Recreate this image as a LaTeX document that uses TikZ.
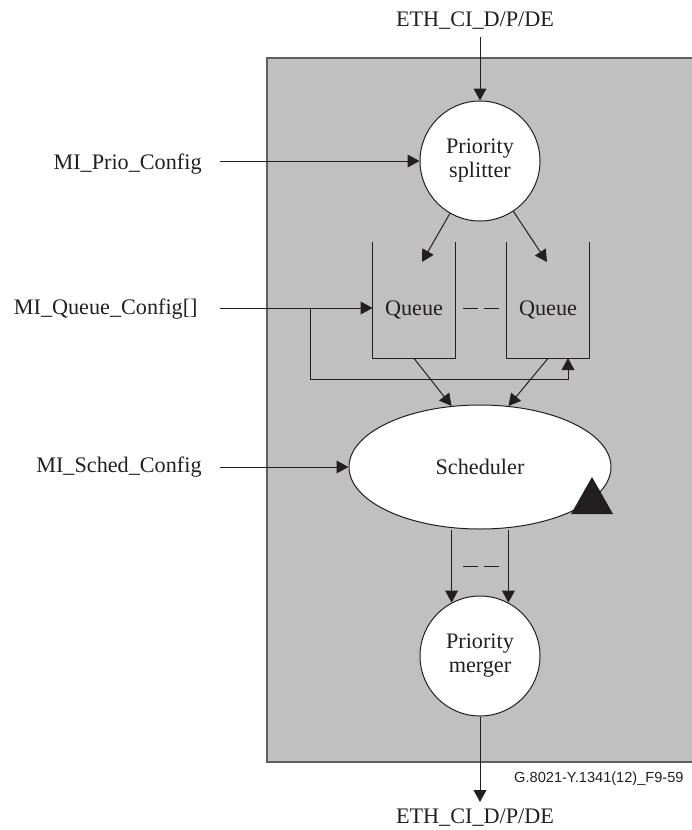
\documentclass[tikz,border=0pt]{standalone}
\usepackage{fontspec}
\setmainfont{Liberation Serif}
\newfontfamily\capfont{Liberation Sans}
\usetikzlibrary{arrows.meta,shapes.geometric}
\definecolor{bgray}{RGB}{192,192,192}
\definecolor{ink}{RGB}{35,31,32}
\definecolor{frame}{RGB}{95,95,95}
\begin{document}
\begin{tikzpicture}[x=0.5pt,y=-0.5pt,
  ln/.style={draw=ink, line width=0.5pt},
  arr/.style={ln, -{Triangle[length=6pt,width=6.4pt]}},
  lbl/.style={font=\fontsize{11.1}{12}\selectfont, text=ink, inner sep=0pt},
  proc/.style={lbl, circle, draw=ink, fill=white, line width=0.5pt, minimum size=60pt, align=center},
  qbox/.style={minimum width=41pt, minimum height=58pt, inner sep=0pt},
  gap/.style={ln, dash pattern=on 7.5pt off 3pt}]
\useasboundingbox (0,0) rectangle (691,830);
% enclosing block
\fill[bgray] (267,58) rectangle (705,762);
\draw[draw=frame, line width=0.8pt] (705,58) -- (267,58) -- (267,762) -- (705,762);

% helper coordinates
\coordinate (xin) at (220,0);
\coordinate (qy) at (0,308);
\coordinate (br) at (310,308);
\coordinate (brlow) at (310,379);
\coordinate (q2in) at (568,358);
\coordinate (q1a) at (422,262);
\coordinate (q2a) at (547,262);
\coordinate (outend) at (480,802);
\coordinate (intop) at (480,37);

% nodes
\node[proc] (split) at (480,161) {Priority\\splitter};
\node[proc] (merge) at (480,656) {Priority\\merger};
\node[lbl, ellipse, draw=ink, fill=white, line width=0.5pt, minimum width=131pt, minimum height=62pt] (sched) at (480,467) {Scheduler};
\node[qbox] (q1) at (414,300) {};
\node[qbox] (q2) at (548,300) {};
\draw[ln] (q1.north west) |- (q1.south east) -- (q1.north east);
\draw[ln] (q2.north west) |- (q2.south east) -- (q2.north east);
\node[lbl, anchor=base] (qt1) at (414,315) {Queue};
\node[lbl, anchor=base] (qt2) at (548,315) {Queue};

\node[lbl, anchor=base] (ethin) at (475,26) {ETH\_CI\_D/P/DE};
\node[lbl, anchor=base] (ethout) at (475,823) {ETH\_CI\_D/P/DE};
\node[lbl, anchor=base east] (prio) at (202,169) {MI\_Prio\_Config};
\node[lbl, anchor=base east] (qcfg) at (198,314) {MI\_Queue\_Config[]};
\node[lbl, anchor=base east] (scfg) at (202,472) {MI\_Sched\_Config};
\node[font=\capfont\fontsize{7.3}{9}\selectfont, text=ink, inner sep=0pt, anchor=base east] (cap) at (684,782) {G.8021-Y.1341(12)\_F9-59};

% scheduler marker
\fill[ink] (571,514) -- (613,514) -- (592,477) -- cycle;

% connectors
\draw[arr] (intop) -- (split.north);
\draw[arr] (xin |- split.west) -- (split.west);
\draw[arr] (split) -- (q1a);
\draw[arr] (split) -- (q2a);
\draw[gap] (463,308) -- (499,308);
\draw[arr] (xin |- qy) -- (q1.west |- qy);
\draw[arr] (br) -- (brlow) -- (brlow -| q2in) -- (q2in);
\draw[arr] (q1.south) -- (sched.115);
\draw[arr] (q2.south) -- (sched.65);
\draw[arr] (xin |- sched.west) -- (sched.west);
\draw[arr] (merge.118 |- sched.south) -- (merge.118);
\draw[arr] (merge.62 |- sched.south) -- (merge.62);
\draw[gap] (463,566) -- (499,566);
\draw[arr] (merge.south) -- (outend);
\end{tikzpicture}
\end{document}
